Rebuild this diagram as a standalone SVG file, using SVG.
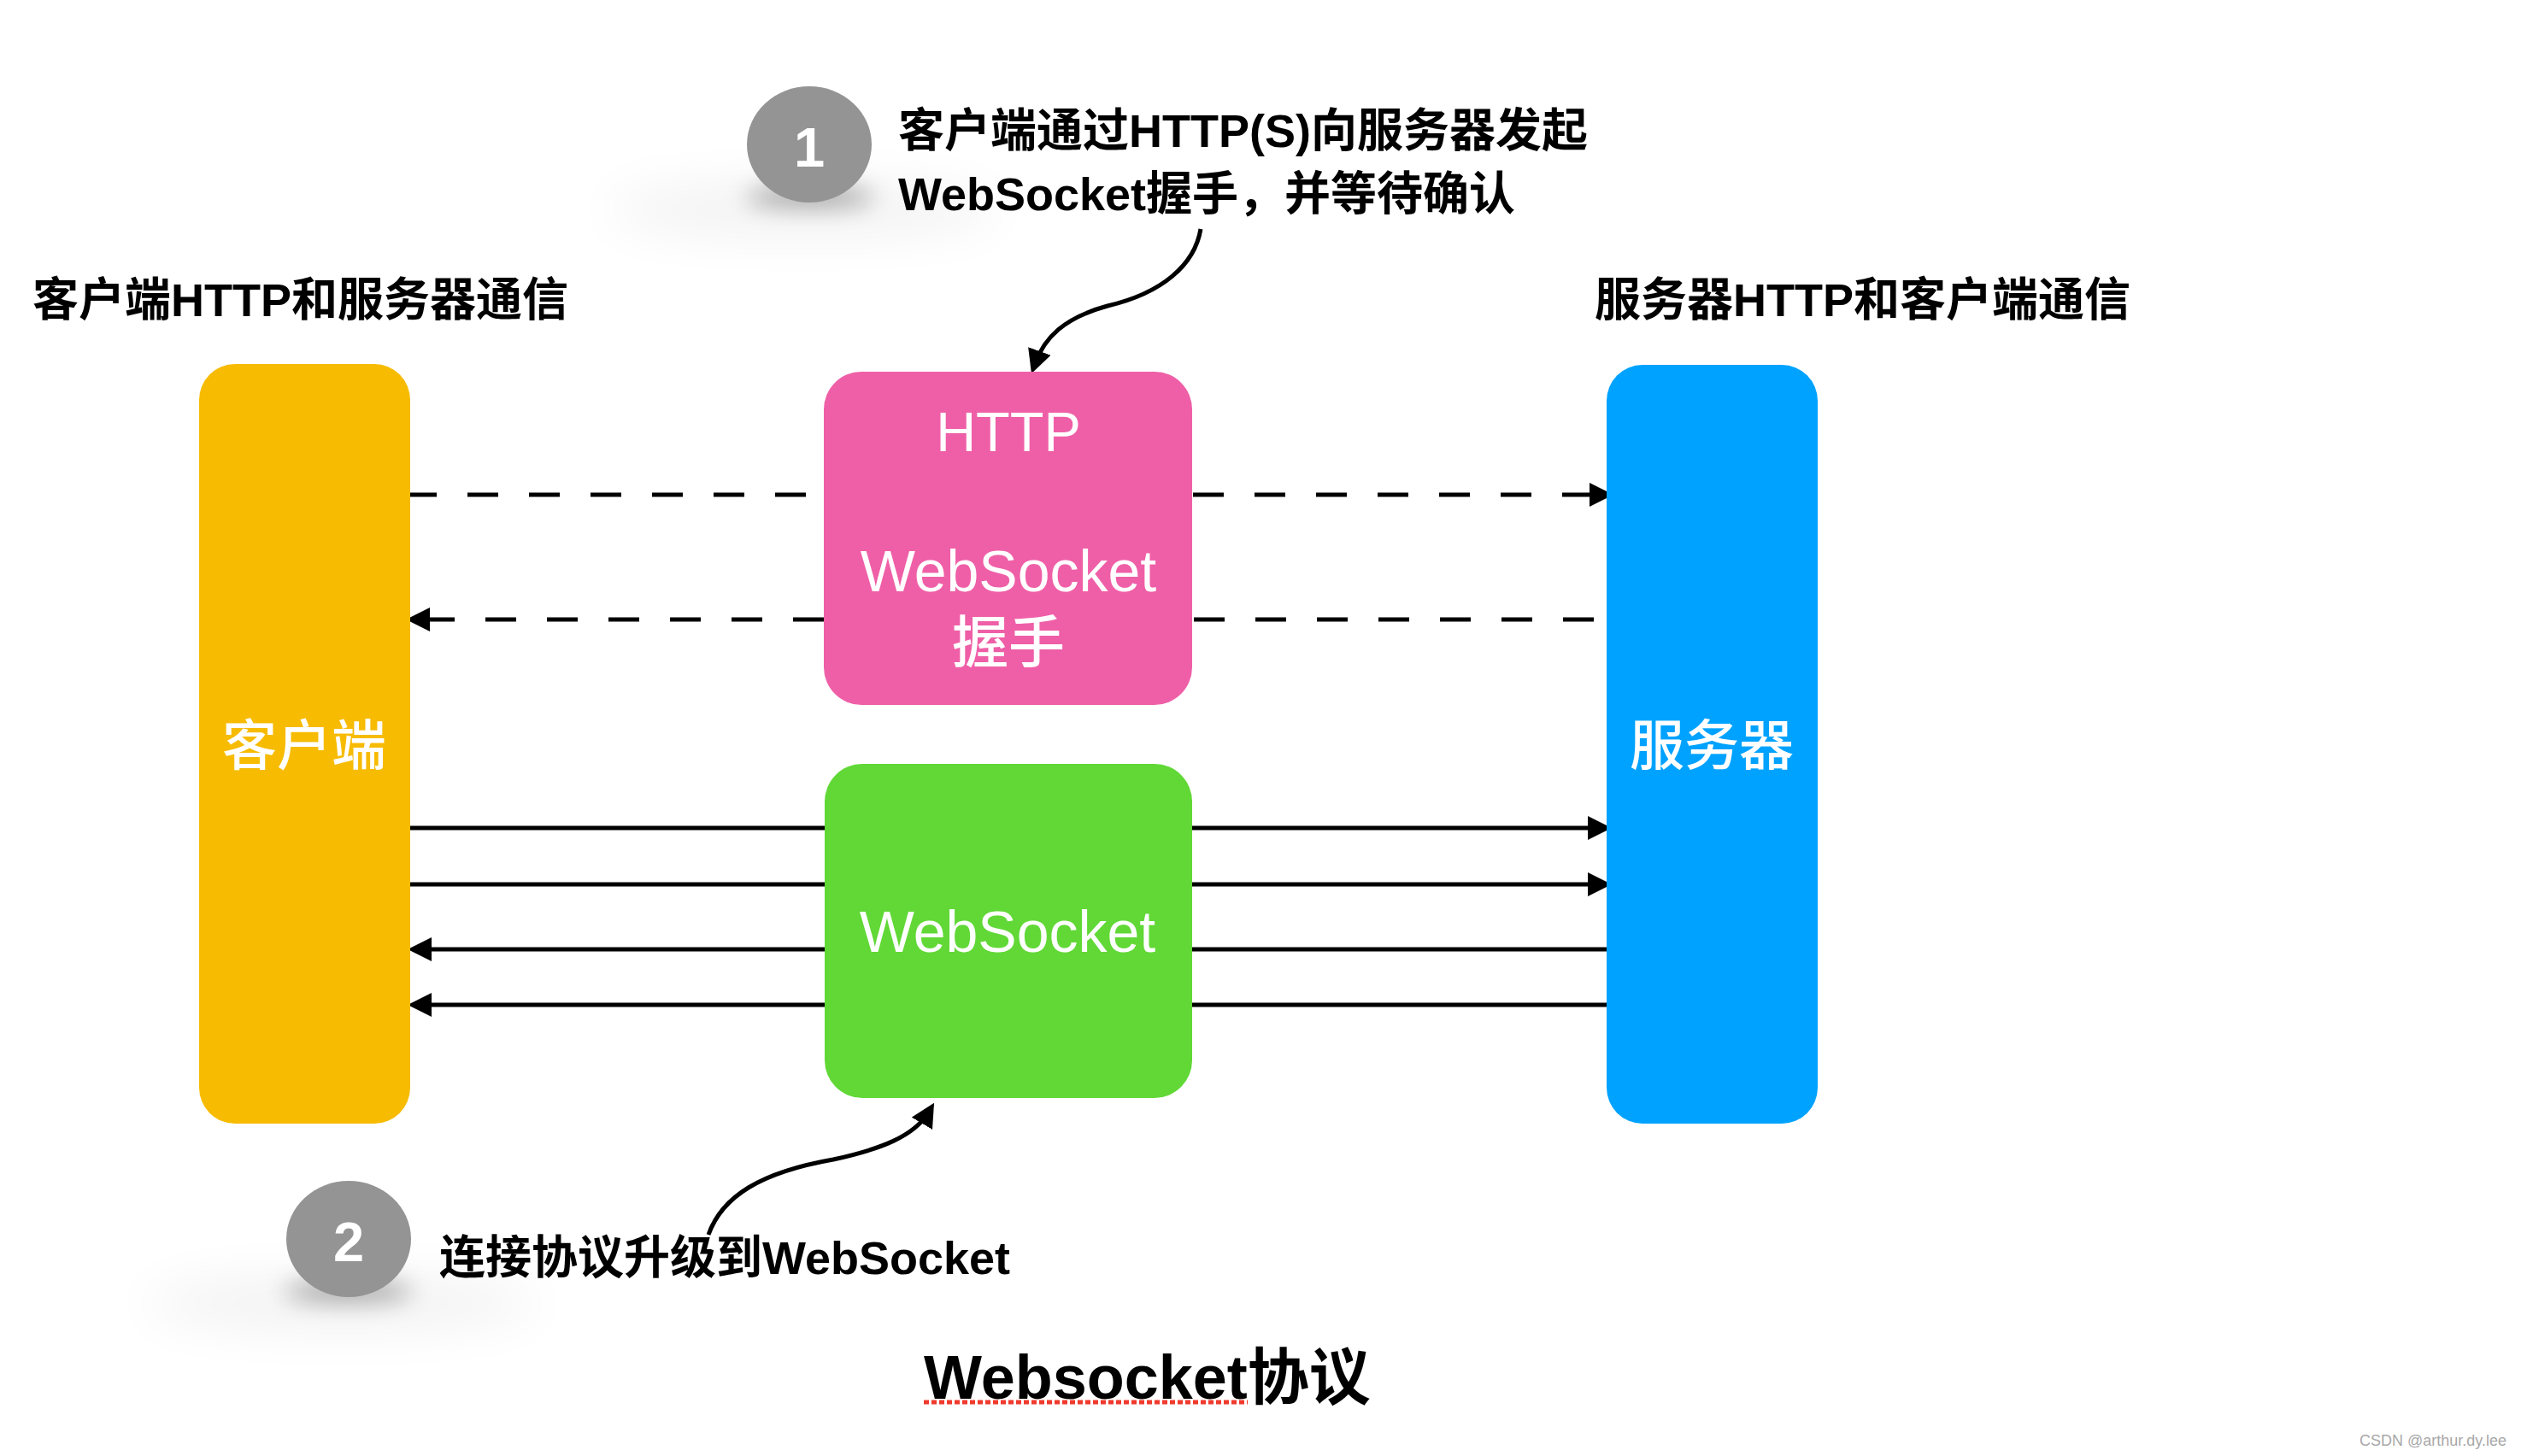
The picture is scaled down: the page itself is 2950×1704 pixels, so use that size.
<svg xmlns="http://www.w3.org/2000/svg" width="2950" height="1704" viewBox="0 0 2950 1704">
<style>
.t{font-family:"Liberation Sans","Noto Sans CJK SC",sans-serif;font-weight:bold;fill:#000}
.lbl{font-family:"Liberation Sans","Noto Sans CJK SC",sans-serif;fill:#fff}
.cj{font-family:"Noto Sans CJK SC",sans-serif;font-weight:500;fill:#fff}
.num{font-family:"Liberation Sans",sans-serif;font-weight:bold;fill:#fff}
.dash{fill:none;stroke:#000;stroke-width:5;stroke-dasharray:36 36}
.solid{fill:none;stroke:#000;stroke-width:5}
</style>
<defs>
<marker id="ah" viewBox="0 0 28 28" refX="16" refY="14" markerWidth="28" markerHeight="28" markerUnits="userSpaceOnUse" orient="auto">
<path d="M0,0 L28,14 L0,28 z" fill="#000"/>
</marker>
<filter id="blur1" x="-50%" y="-200%" width="200%" height="500%"><feGaussianBlur stdDeviation="14"/></filter>
<filter id="blur2" x="-50%" y="-200%" width="200%" height="500%"><feGaussianBlur stdDeviation="30"/></filter>
</defs>
<rect width="2950" height="1704" fill="#fff"/>

<g id="connectors">
<path class="dash" d="M475,579 L964,579"/>
<path class="dash" d="M1396,579 L1876,579" marker-end="url(#ah)"/>
<path class="dash" d="M1865,725 L1396,725"/>
<path class="dash" d="M964,725 L487,725" marker-end="url(#ah)"/>
<path class="solid" d="M480,969 L1874,969" marker-end="url(#ah)"/>
<path class="solid" d="M480,1035 L1874,1035" marker-end="url(#ah)"/>
<path class="solid" d="M1883,1111 L489,1111" marker-end="url(#ah)"/>
<path class="solid" d="M1883,1176 L489,1176" marker-end="url(#ah)"/>
<path class="solid" d="M1405,268 C1398,310 1360,343 1296,358 C1245,372 1222,395 1211,426" marker-end="url(#ah)"/>
<path class="solid" d="M829,1445 C845,1400 890,1372 975,1357 C1030,1345 1070,1330 1087,1301" marker-end="url(#ah)"/>
</g>

<g id="client">
<rect x="233" y="426" width="247" height="889" rx="42" fill="#F7BB02"/>
<text class="cj" x="356" y="895" font-size="64" text-anchor="middle">客户端</text>
</g>

<g id="server">
<rect x="1880" y="427" width="247" height="888" rx="42" fill="#00A2FF"/>
<text class="cj" x="2003" y="895" font-size="64" text-anchor="middle">服务器</text>
</g>

<g id="handshake">
<rect x="964" y="435" width="431" height="390" rx="44" fill="#EF5FA7"/>
<text class="lbl" x="1180" y="528" font-size="65" text-anchor="middle">HTTP</text>
<text class="lbl" x="1180" y="692" font-size="68" text-anchor="middle">WebSocket</text>
<text class="cj" x="1180" y="775" font-size="66" text-anchor="middle">握手</text>
</g>

<g id="websocket">
<rect x="965" y="894" width="430" height="391" rx="44" fill="#61D836"/>
<text class="lbl" x="1179" y="1114" font-size="68" text-anchor="middle">WebSocket</text>
</g>

<g id="step1">
<ellipse cx="940" cy="245" rx="230" ry="28" fill="#000" opacity="0.06" filter="url(#blur2)"/>
<ellipse cx="948" cy="230" rx="75" ry="12" fill="#000" opacity="0.35" filter="url(#blur1)"/>
<ellipse cx="947" cy="169" rx="73" ry="68" fill="#949494"/>
<text class="num" x="947" y="195" font-size="65" text-anchor="middle">1</text>
<text class="t" x="1051" y="172" font-size="54">客户端通过HTTP(S)向服务器发起</text>
<text class="t" x="1051" y="246" font-size="54">WebSocket握手，并等待确认</text>
</g>

<g id="step2">
<ellipse cx="400" cy="1525" rx="230" ry="28" fill="#000" opacity="0.06" filter="url(#blur2)"/>
<ellipse cx="408" cy="1511" rx="75" ry="12" fill="#000" opacity="0.35" filter="url(#blur1)"/>
<ellipse cx="408" cy="1450" rx="73" ry="68" fill="#949494"/>
<text class="num" x="408" y="1476" font-size="65" text-anchor="middle">2</text>
<text class="t" x="514" y="1491" font-size="54">连接协议升级到WebSocket</text>
</g>

<g id="titles">
<text class="t" x="38" y="370" font-size="54">客户端HTTP和服务器通信</text>
<text class="t" x="1866" y="370" font-size="54">服务器HTTP和客户端通信</text>
<text class="t" x="1081" y="1637" font-size="72">Websocket协议</text>
<line x1="1081" y1="1641" x2="1460" y2="1641" stroke="#F03A2E" stroke-width="5" stroke-dasharray="6 3"/>
<text x="2933" y="1692" font-size="18" text-anchor="end" font-family="Liberation Sans, sans-serif" fill="#A8A8A8">CSDN @arthur.dy.lee</text>
</g>
</svg>
